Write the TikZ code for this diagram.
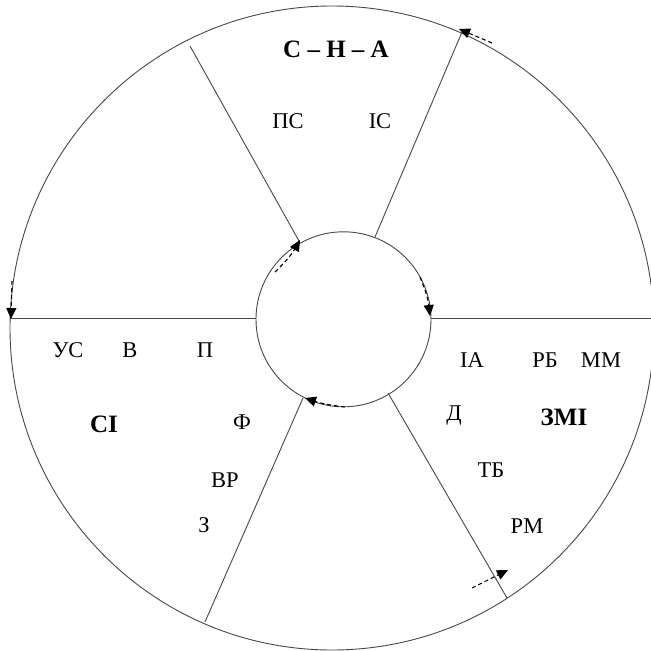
\documentclass[tikz,border=0pt]{standalone}
\usepackage{fontspec}
\setmainfont{Liberation Serif}
\usetikzlibrary{arrows.meta}
\begin{document}
\begin{tikzpicture}[x=1pt,y=-1pt,
  ring/.style={draw=black!72, line width=0.9pt, circle, inner sep=0pt},
  spoke/.style={draw=black!72, line width=0.9pt},
  flow/.style={draw=black, line width=1.1pt, dash pattern=on 4pt off 3pt, -{Triangle[length=11pt,width=10pt]}},
  lbl/.style={inner sep=0pt, anchor=base, font=\fontsize{22.5}{24}\selectfont},
  head/.style={inner sep=0pt, anchor=base, font=\fontsize{25}{27}\selectfont\bfseries}]
\useasboundingbox (0,0) rectangle (651,651);
\begin{scope}
\clip (0,0) rectangle (651,651);
\node[ring, minimum size=644pt] (outer) at (332,328) {};
\node[ring, minimum size=175pt] (inner) at (343.5,319.3) {};
% spoke end points
\coordinate (oL) at (10,318);   \coordinate (iL) at (256,318);
\coordinate (oR) at (660,318);  \coordinate (iR) at (431,318);
\coordinate (oUL) at (190,46);  \coordinate (iUL) at (299,241);
\coordinate (oUR) at (462,32);  \coordinate (iUR) at (375,237);
\coordinate (oLL) at (205,622); \coordinate (iLL) at (303,398);
\coordinate (oLR) at (507,598); \coordinate (iLR) at (388,393);
\draw[spoke] (oL) -- (iL);
\draw[spoke] (iR) -- (oR);
\draw[spoke] (oUL) -- (iUL);
\draw[spoke] (iUR) -- (oUR);
\draw[spoke] (iLL) -- (oLL);
\draw[spoke] (iLR) -- (oLR);
\end{scope}
% flow arrows (outer, counter-clockwise)
\coordinate (a1s) at (492,43);  \coordinate (a1e) at (459,29);
\coordinate (a2s) at (12,281);  \coordinate (a2e) at (11,319);
\coordinate (a3s) at (472,588); \coordinate (a3e) at (508,570);
\draw[flow] (a1s) -- (a1e);
\draw[flow] (a2s) -- (a2e);
\draw[flow] (a3s) -- (a3e);
% flow arrows (inner, clockwise)
\coordinate (b1s) at (275,272); \coordinate (b1e) at (300,240);
\coordinate (b2s) at (420,277); \coordinate (b2e) at (430,316);
\coordinate (b3s) at (345,407); \coordinate (b3e) at (305,398);
\draw[flow] (b1s) to[bend right=8] (b1e);
\draw[flow] (b2s) to[bend left=8] (b2e);
\draw[flow] (b3s) to[bend left=6] (b3e);
% labels
\node[head] (sna) at (336,57) {С – Н – А};
\node[lbl] (ps) at (288,128) {ПС};
\node[lbl] (is) at (380,128) {ІС};
\node[lbl] (us) at (68,357) {УС};
\node[lbl] (v) at (130,357) {В};
\node[lbl] (p) at (205,357) {П};
\node[head] (si) at (104,432) {СІ};
\node[lbl] (f) at (242,429) {Ф};
\node[lbl] (vr) at (225,487) {ВР};
\node[lbl] (z) at (204,532) {З};
\node[lbl] (ia) at (472,367) {ІА};
\node[lbl] (rb) at (545,367) {РБ};
\node[lbl] (mm) at (601,367) {ММ};
\node[lbl] (d) at (454,420) {Д};
\node[head] (zmi) at (564,425) {ЗМІ};
\node[lbl] (tb) at (491,477) {ТБ};
\node[lbl] (rm) at (527,533) {РМ};
\end{tikzpicture}
\end{document}
